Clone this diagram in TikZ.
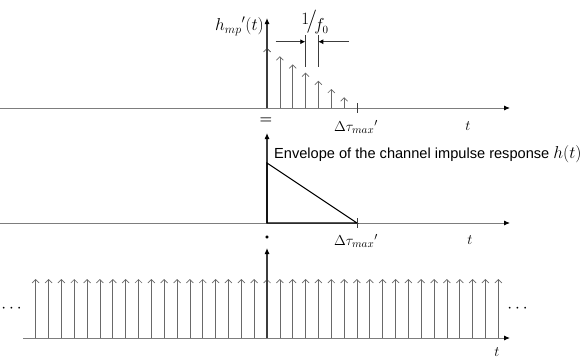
\documentclass[tikz,border=0pt]{standalone}
\usepackage{amsmath, amssymb}
\usepackage{graphicx}
\usepackage{fontspec}
\newfontfamily\envfont{Liberation Sans}
\usepackage{tikz}
\usetikzlibrary{arrows.meta,positioning,calc}
\definecolor{AxisGray}{RGB}{125, 125, 125}
\definecolor{PulseGray}{RGB}{105, 105, 105}
\definecolor{StemDark}{RGB}{60, 60, 60}

\tikzset{
  axis/.style={AxisGray, line width=0.9pt, -{Latex[black, length=6pt, width=5pt]}},
  stem/.style={StemDark, line width=1.1pt, -{Latex[black, length=6pt, width=5pt]}},
  pulse/.style={PulseGray, line width=0.7pt, -{Straight Barb[length=3.5pt, width=7pt]}},
  marker/.style={StemDark, line width=0.9pt},
  dimline/.style={StemDark, line width=0.8pt, -{Latex[black, length=5pt, width=5pt]}},
  lbl/.style={font=\fontsize{15}{17}\selectfont, inner sep=1pt}
}

\begin{document}
\begin{tikzpicture}[x=1pt, y=-1pt]
  \useasboundingbox (0,0) rectangle (588,359);

  % Top: h_mp'(t)
  \draw[axis] (0,108) -- (510,108);
  \foreach \k in {1,...,6}
    \draw[pulse] ({267+12.85*\k},108) -- ++(0,{-(60-8.2*\k)});
  \draw[pulse, StemDark] (267,108) -- (267,48);
  \draw[stem] (267,108) -- (267,18);
  \draw[marker] (357,103) -- (357,113);
  \node[lbl, font=\fontsize{17}{19}\selectfont, anchor=east] (hmp) at (265,26) {${h_{mp}}'(t)$};
  \node[lbl] (tTop) at (468,126) {$t$};
  \node[lbl] (tauTop) at (356,127) {$\Delta\tau_{max}{}'$};
  \node[lbl] (eq) at (266,121) {$\boldsymbol{=}$};

  % Spacing 1/f0
  \coordinate (gapL) at (305.3,35);
  \coordinate (gapR) at (318.3,35);
  \draw[marker] (gapL) -- ++(0,32);
  \draw[marker] (gapR) -- ++(0,32);
  \draw[dimline] (275.5,41.7) -- (gapL |- 0,41.7);
  \draw[dimline] (349,41.7) -- (gapR |- 0,41.7);
  \node[lbl, inner sep=0pt, font=\fontsize{16}{18}\selectfont] (finv) at (315,22)
    {$\raisebox{3pt}{$1$}\!\scalebox{1.35}{$/$}\!\raisebox{-3pt}{$f_0$}$};

  % Middle: envelope
  \draw[axis] (0,223) -- (510,223);
  \draw[stem] (267,223) -- (267,133);
  \draw[black, line width=1.1pt, line join=miter] (267,223) -- (267,163) -- (357,223) -- cycle;
  \draw[marker] (357,218) -- (357,228);
  \node[anchor=west, inner sep=0pt] (envtext) at (274,154)
    {\envfont\fontsize{14.6}{17}\selectfont Envelope of the channel impulse response \fontsize{16}{18}\selectfont$h(t)$};
  \node[lbl] (tMid) at (470,240) {$t$};
  \node[lbl] (tauMid) at (356,241) {$\Delta\tau_{max}{}'$};
  \node[inner sep=0pt, scale=0.8] (dot) at (267,237.5) {$\bullet$};

  % Bottom: impulse train
  \draw[axis] (23,338) -- (510,338);
  \foreach \k in {-18,...,18}
    \draw[pulse] ({267+12.85*\k},338) -- ++(0,-59);
  \draw[stem] (267,338) -- (267,248);
  \node[lbl, font=\fontsize{19}{21}\selectfont] (dotsL) at (13,309) {$\cdots$};
  \node[lbl, font=\fontsize{19}{21}\selectfont] (dotsR) at (519,309) {$\cdots$};
  \node[lbl] (tBot) at (497,352) {$t$};
\end{tikzpicture}
\end{document}
